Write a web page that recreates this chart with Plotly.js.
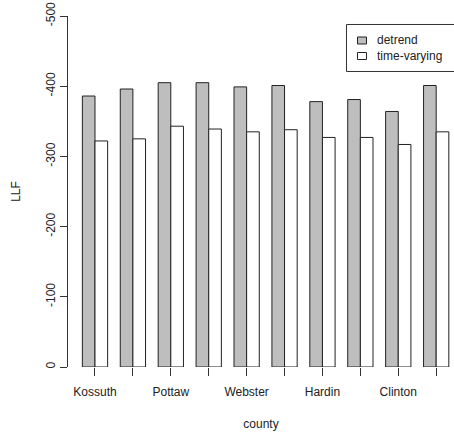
<!DOCTYPE html>
<html>
<head>
<meta charset="utf-8">
<script src="https://cdn.plot.ly/plotly-3.0.1.min.js"></script>
<style>html,body{margin:0;padding:0;background:#fff;}#chart{width:454px;height:437px;}</style>
</head>
<body>
<div id="chart"></div>
<script>
// County labels (R drops every other label because they overlap)
const countyLabels = ["Kossuth", "", "Pottaw", "", "Webster", "", "Hardin", "", "Clinton", ""];
const detrend = [-386, -396, -405, -405, -399, -401, -378, -381, -364, -401];
const timeVarying = [-322, -325, -343, -339, -335, -338, -327, -327, -317, -335];
const yTickVals = [0, -100, -200, -300, -400, -500];
const yTickText = ["0", "-100", "-200", "-300", "-400", "-500"];
const seriesNames = ["detrend", "time-varying"];
const seriesFills = ["#BEBEBE", "#FFFFFF"];

const xPos = countyLabels.map((_, i) => i);
const font = {family: "Liberation Sans, Arial, sans-serif", size: 12, color: "#222"};

const traces = [
  {type: "bar", name: seriesNames[0], x: xPos, y: detrend,
   marker: {color: seriesFills[0], line: {color: "#222", width: 1}}},
  {type: "bar", name: seriesNames[1], x: xPos, y: timeVarying,
   marker: {color: seriesFills[1], line: {color: "#222", width: 1}}}
];

// R-style legend box drawn in paper coordinates
const legendShapes = [
  {type: "rect", xref: "paper", yref: "paper", x0: 0.7215, x1: 1.05, y0: 0.8419, y1: 0.9758,
   line: {color: "#333", width: 1}, fillcolor: "rgba(0,0,0,0)"},
  {type: "rect", xref: "paper", yref: "paper", x0: 0.7500, x1: 0.7733, y0: 0.9202, y1: 0.9402,
   line: {color: "#222", width: 1}, fillcolor: seriesFills[0]},
  {type: "rect", xref: "paper", yref: "paper", x0: 0.7500, x1: 0.7733, y0: 0.8761, y1: 0.8960,
   line: {color: "#222", width: 1}, fillcolor: seriesFills[1]}
];
const legendText = [
  {xref: "paper", yref: "paper", x: 0.7980, y: 0.9302, xanchor: "left", yanchor: "middle",
   text: seriesNames[0], showarrow: false, font: font, borderpad: 0, height: 14},
  {xref: "paper", yref: "paper", x: 0.7980, y: 0.8860, xanchor: "left", yanchor: "middle",
   text: seriesNames[1], showarrow: false, font: font, borderpad: 0, height: 14}
];

const layout = {
  width: 454, height: 437,
  margin: {l: 68, r: 0, t: 16, b: 70, pad: 0},
  paper_bgcolor: "#fff", plot_bgcolor: "#fff",
  font: font,
  barmode: "group", bargap: 1/3, bargroupgap: 0,
  showlegend: false,
  shapes: legendShapes,
  annotations: legendText,
  xaxis: {range: [-0.712, 9.47], tickvals: xPos, ticktext: countyLabels,
          ticks: "outside", ticklen: 8, tickcolor: "#333", showline: false,
          ticklabelstandoff: 6,
          showgrid: false, zeroline: false, tickfont: font,
          title: {text: "county", font: font, standoff: 21}, automargin: false},
  yaxis: {range: [0, -500], tickvals: yTickVals, ticktext: yTickText,
          ticks: "outside", ticklen: 7, tickcolor: "#333", tickangle: -90,
          showline: true, linecolor: "#333", linewidth: 1,
          showgrid: false, zeroline: false, tickfont: font,
          title: {text: "LLF", font: font, standoff: 21}, automargin: false}
};

Plotly.newPlot("chart", traces, layout, {displayModeBar: false, staticPlot: true});
</script>
</body>
</html>
